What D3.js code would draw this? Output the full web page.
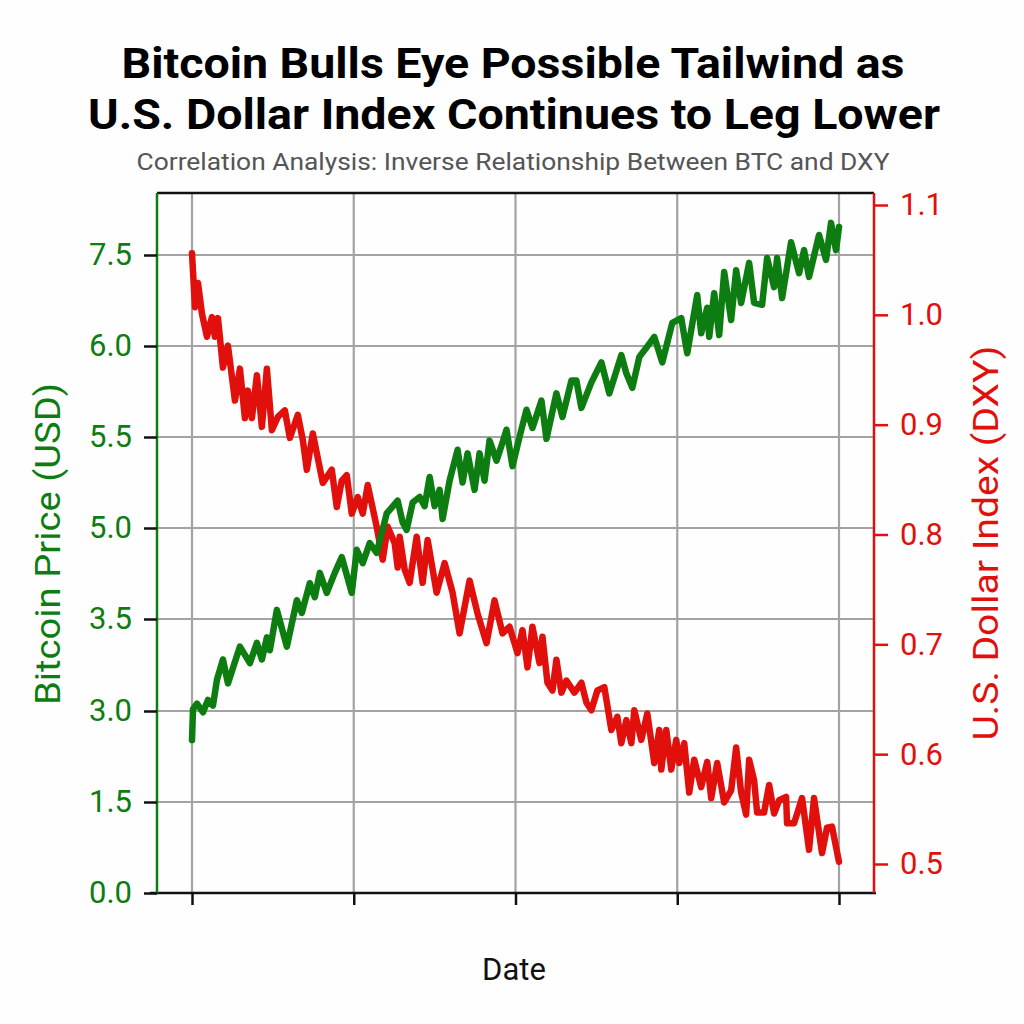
<!DOCTYPE html>
<html><head><meta charset="utf-8">
<script src="https://cdn.jsdelivr.net/npm/d3@7"></script>
<style>
html,body{margin:0;padding:0;background:#fff;}
svg{display:block;font-family:Roboto, "Noto Sans", sans-serif;}
</style></head>
<body>
<svg id="chart" width="1024" height="1024"></svg>
<script>
// ---------- DATA ----------
const titleLines = ["Bitcoin Bulls Eye Possible Tailwind as", "U.S. Dollar Index Continues to Leg Lower"];
const subtitle = "Correlation Analysis: Inverse Relationship Between BTC and DXY";
const leftTickValues = [0.0, 1.5, 3.0, 3.5, 5.0, 5.5, 6.0, 7.5];
const leftTickLabels = ["0.0", "1.5", "3.0", "3.5", "5.0", "5.5", "6.0", "7.5"];
const rightTickValues = [0.5, 0.6, 0.7, 0.8, 0.9, 1.0, 1.1];
const xTickDays = [0, 162, 324, 486, 648];

// Bitcoin price: day offsets and values
const btcDays = [0,1,5,11,16,21,25,31,36,48,58,65,70,75,78,85,95,105,110,118,123,128,135,143,150,160,165,171,178,185,195,206,211,215,221,228,233,238,243,248,251,258,266,271,276,283,288,293,298,305,311,315,321,328,335,341,350,355,365,371,380,385,390,400,410,418,430,435,441,448,455,463,471,481,490,496,506,510,516,518,523,528,533,540,545,550,558,563,571,576,583,586,591,600,608,613,618,628,635,640,645,648];
const btcPrice = [2.52,3.01,3.04,2.98,3.06,3.03,3.17,3.28,3.15,3.35,3.26,3.37,3.28,3.40,3.33,3.65,3.35,3.81,3.60,4.09,3.86,4.26,3.93,4.26,4.52,3.93,4.64,4.42,4.75,4.59,5.08,5.15,5.03,4.97,5.14,5.17,5.12,5.28,5.12,5.21,5.05,5.26,5.43,5.25,5.41,5.21,5.41,5.26,5.48,5.37,5.47,5.54,5.34,5.50,5.65,5.55,5.70,5.49,5.74,5.61,5.81,5.81,5.66,5.80,5.91,5.74,5.95,5.85,5.77,5.94,5.99,6.15,5.91,6.38,6.46,5.96,6.84,6.21,6.63,6.15,6.87,6.18,7.22,6.43,7.25,6.71,7.37,6.71,6.68,7.45,6.97,7.45,6.79,7.71,7.20,7.58,7.14,7.83,7.42,8.03,7.58,7.96];

// U.S. Dollar Index: day offsets and values
const dxyDays = [0,3,6,10,15,20,23,26,31,36,43,48,53,56,60,65,70,75,80,86,93,98,106,111,115,121,131,140,145,150,155,160,166,171,176,185,191,196,203,206,208,213,218,225,231,236,245,253,261,268,278,286,295,303,311,318,326,331,336,341,348,351,356,361,365,370,375,383,390,395,400,406,413,420,426,430,435,440,443,450,456,463,468,470,475,480,485,488,493,498,503,510,516,520,526,533,540,545,550,555,558,563,566,573,578,583,588,595,596,603,611,618,623,631,636,641,648];
const dxyIndex = [1.056,1.007,1.029,1.001,0.980,0.998,0.980,0.997,0.952,0.972,0.922,0.951,0.906,0.931,0.906,0.945,0.898,0.951,0.895,0.907,0.913,0.888,0.909,0.886,0.859,0.892,0.847,0.859,0.825,0.849,0.854,0.819,0.834,0.819,0.845,0.807,0.777,0.807,0.792,0.770,0.798,0.768,0.756,0.798,0.756,0.795,0.747,0.774,0.747,0.710,0.758,0.728,0.701,0.740,0.710,0.716,0.692,0.713,0.679,0.716,0.683,0.707,0.665,0.658,0.686,0.656,0.667,0.656,0.665,0.647,0.640,0.658,0.661,0.622,0.634,0.610,0.631,0.610,0.640,0.613,0.637,0.592,0.622,0.586,0.622,0.586,0.613,0.592,0.610,0.565,0.595,0.570,0.593,0.560,0.592,0.556,0.567,0.606,0.565,0.545,0.595,0.576,0.547,0.547,0.572,0.546,0.558,0.561,0.537,0.537,0.560,0.513,0.560,0.510,0.533,0.534,0.502];

// ---------- LAYOUT ----------
const GREEN = "#0d7d12", RED = "#e2100c", GRID = "#a3a3a3";
const L = 157, R = 874, T = 193, B = 893;
const svg = d3.select("#chart");
svg.append("rect").attr("width",1024).attr("height",1024).attr("fill","#fefefe");

const x = d3.scaleLinear().domain([0, 648]).range([192, 839]);
const yL = d3.scaleLinear().domain(leftTickValues).range([893, 802, 711, 619, 528, 437, 346, 255]);
const yR = d3.scaleLinear().domain([0.5, 1.1]).range([864, 205]);

// grid
const g = svg.append("g");
g.selectAll("line.h").data(leftTickValues.slice(1)).join("line")
  .attr("x1", L).attr("x2", R).attr("y1", d => yL(d)).attr("y2", d => yL(d))
  .attr("stroke", GRID).attr("stroke-width", 2.2);
g.selectAll("line.v").data(xTickDays).join("line")
  .attr("x1", d => x(d)).attr("x2", d => x(d)).attr("y1", T).attr("y2", B)
  .attr("stroke", GRID).attr("stroke-width", 2.2);

// frame top
svg.append("line").attr("x1", L).attr("x2", R).attr("y1", T).attr("y2", T).attr("stroke", "#111").attr("stroke-width", 2.5);

// lines
const btcLine = d3.line().x((d, i) => x(btcDays[i])).y(d => yL(d)).curve(d3.curveLinear);
const dxyLine = d3.line().x((d, i) => x(dxyDays[i])).y(d => yR(d)).curve(d3.curveLinear);
svg.append("path").attr("d", dxyLine(dxyIndex)).attr("fill", "none").attr("stroke", RED)
  .attr("stroke-width", 6.5).attr("stroke-linejoin", "round").attr("stroke-linecap", "round");
svg.append("path").attr("d", btcLine(btcPrice)).attr("fill", "none").attr("stroke", GREEN)
  .attr("stroke-width", 6.5).attr("stroke-linejoin", "round").attr("stroke-linecap", "round");

// bottom axis
const xAxis = svg.append("g").attr("transform", `translate(0,${B})`)
  .call(d3.axisBottom(x).tickValues(xTickDays).tickFormat("").tickSize(12).tickSizeOuter(0));
xAxis.select(".domain").attr("d", `M${L-7},0H${R+2}`).attr("stroke", "#111").attr("stroke-width", 2.5);
xAxis.selectAll(".tick line").attr("stroke", "#111").attr("stroke-width", 2.5);

// left axis
const yAxisL = svg.append("g").attr("transform", `translate(${L},0)`)
  .call(d3.axisLeft(yL).tickValues(leftTickValues).tickFormat((d, i) => leftTickLabels[i]).tickSize(13).tickPadding(12).tickSizeOuter(0));
yAxisL.select(".domain").attr("d", `M0,${T}V${B}`).attr("stroke", GREEN).attr("stroke-width", 2.5);
yAxisL.selectAll(".tick line").attr("stroke", "#111").attr("stroke-width", 2.5);
yAxisL.selectAll(".tick text").attr("fill", GREEN).attr("font-size", 31).attr("font-family", "Roboto");

// right axis
const yAxisR = svg.append("g").attr("transform", `translate(${R},0)`)
  .call(d3.axisRight(yR).tickValues(rightTickValues).tickFormat(d3.format(".1f")).tickSize(14).tickPadding(12).tickSizeOuter(0));
yAxisR.select(".domain").attr("d", `M0,${T}V${B}`).attr("stroke", RED).attr("stroke-width", 2.5);
yAxisR.selectAll(".tick line").attr("stroke", RED).attr("stroke-width", 2.5);
yAxisR.selectAll(".tick text").attr("fill", RED).attr("font-size", 31).attr("font-family", "Roboto");

// titles
svg.append("text").attr("x", 513).attr("y", 78).attr("text-anchor", "middle")
  .attr("font-size", 42).attr("font-weight", 700).attr("fill", "#000")
  .attr("textLength", 783).attr("lengthAdjust", "spacingAndGlyphs").text(titleLines[0]);
svg.append("text").attr("x", 514).attr("y", 129).attr("text-anchor", "middle")
  .attr("font-size", 43).attr("font-weight", 700).attr("fill", "#000")
  .attr("textLength", 852).attr("lengthAdjust", "spacingAndGlyphs").text(titleLines[1]);
svg.append("text").attr("x", 513).attr("y", 170).attr("text-anchor", "middle")
  .attr("font-size", 24).attr("fill", "#555")
  .attr("textLength", 753).attr("lengthAdjust", "spacingAndGlyphs").text(subtitle);

// axis titles
svg.append("text").attr("transform", "translate(60,544) rotate(-90)").attr("text-anchor", "middle")
  .attr("font-size", 35).attr("fill", GREEN)
  .attr("textLength", 322).attr("lengthAdjust", "spacingAndGlyphs").text("Bitcoin Price (USD)");
svg.append("text").attr("transform", "translate(998,543) rotate(-90)").attr("text-anchor", "middle")
  .attr("font-size", 35).attr("fill", RED)
  .attr("textLength", 395).attr("lengthAdjust", "spacingAndGlyphs").text("U.S. Dollar Index (DXY)");
svg.append("text").attr("x", 514).attr("y", 980).attr("text-anchor", "middle")
  .attr("font-size", 31).attr("fill", "#111").text("Date");
</script>
</body></html>
